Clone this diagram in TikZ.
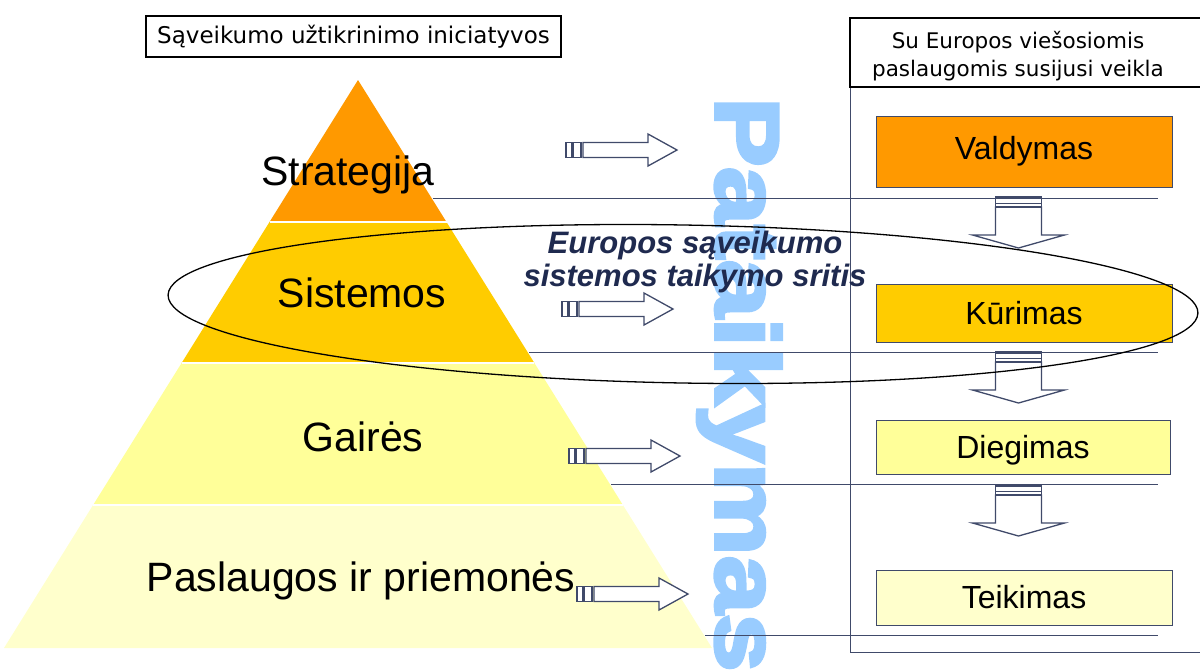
\documentclass[tikz,border=0pt]{standalone}
\usepackage{fontspec}
\setmainfont{Liberation Sans}
\newfontfamily\dejavu{DejaVu Sans}
\newfontfamily\wmfont[FakeBold=4,FakeStretch=1.16]{Liberation Sans Bold}
\usetikzlibrary{calc}
\definecolor{cA}{HTML}{FF9900}
\definecolor{cB}{HTML}{FFCC00}
\definecolor{cC}{HTML}{FFFF99}
\definecolor{cD}{HTML}{FFFFCC}
\definecolor{lineblue}{HTML}{404A6A}
\definecolor{wmblue}{HTML}{99CCFF}
\definecolor{navy}{HTML}{1F2A4F}
\tikzset{
  layer/.style={draw=white, line width=1.5},
  pyrtext/.style={font=\fontsize{41}{45}\selectfont, inner sep=0},
  hline/.style={draw=lineblue, line width=1},
  arrline/.style={draw=lineblue, line width=1.3},
  rbox/.style={draw=lineblue, line width=1, minimum width=296, inner sep=0, font=\fontsize{32}{36}\selectfont},
  tbox/.style={draw=black, line width=2.5, inner sep=0, font=\dejavu\fontsize{21.5}{28}\selectfont, align=center},
  rarr/.pic={
    \draw[arrline, fill=white] (0,-7.5) rectangle (6,7.5);
    \draw[arrline, fill=white] (7,-7.5) rectangle (15,7.5);
    \draw[arrline, fill=white] (17,-7.5) -- (82,-7.5) -- (82,-16) -- (111,0) -- (82,16) -- (82,7.5) -- (17,7.5) -- cycle;
  },
  darr/.pic={
    \draw[arrline, fill=white] (-23,10) -- (-23,38) -- (-46,38) -- (0,51) -- (46,38) -- (23,38) -- (23,10) -- cycle;
    \draw[arrline, fill=white] (-23,0) rectangle (23,10);
    \draw[draw=lineblue, line width=2.5] (-23,1.2) -- (23,1.2);
    \draw[draw=lineblue, line width=1] (-23,6) -- (23,6);
  }
}
\begin{document}
\begin{tikzpicture}[x=1pt,y=-1pt]
\useasboundingbox (0,0) rectangle (1200,670);

% watermark
\node[text=wmblue, font=\wmfont\fontsize{90}{90}\selectfont, rotate=-90, anchor=base west, inner sep=0] (wm) at (716,97) {Pataikymas};

% pyramid
\coordinate (apex) at (358,80);
\coordinate (L1) at (269.5,222); \coordinate (R1) at (446.5,222);
\coordinate (L2) at (181.6,363); \coordinate (R2) at (534.4,363);
\coordinate (L3) at (93.1,505);  \coordinate (R3) at (622.9,505);
\coordinate (L4) at (4,648);     \coordinate (R4) at (712,648);
\fill[cD] (L3) -- (R3) -- (R4) -- (L4) -- cycle;
\fill[cC] (L2) -- (R2) -- (R3) -- (L3) -- cycle;
\fill[cB] (L1) -- (R1) -- (R2) -- (L2) -- cycle;
\fill[cA] (apex) -- (R1) -- (L1) -- cycle;
\draw[layer] (L1) -- (R1);
\draw[layer] (L2) -- (R2);
\draw[layer] (L3) -- (R3);

\node[pyrtext] (strat) at (348,175) {Strategija};
\node[pyrtext] (sist) at (362,293) {Sistemos};
\node[pyrtext] (gair) at (363,437) {Gairės};
\node[pyrtext] (pasl) at (361,581) {Paslaugos ir priemonės};

% horizontal lines
\coordinate (h1a) at (433,198); \coordinate (h1b) at (1158,198);
\coordinate (h2a) at (529,352); \coordinate (h2b) at (1158,352);
\coordinate (h3a) at (611,484); \coordinate (h3b) at (1158,484);
\coordinate (h4a) at (705,635); \coordinate (h4b) at (1158,635);
\draw[hline] (h1a) -- (h1b);
\draw[hline] (h2a) -- (h2b);
\draw[hline] (h3a) -- (h3b);
\draw[hline] (h4a) -- (h4b);

% right column frame
\coordinate (f1) at (850,87); \coordinate (f2) at (850,652); \coordinate (f3) at (1205,652);
\draw[draw=lineblue, line width=1] (f1) -- (f2) -- (f3);

% title boxes
\node[tbox, minimum width=415, minimum height=41, font=\dejavu\fontsize{23}{26}\selectfont] (lt) at (353.5,36.5) {Sąveikumo užtikrinimo iniciatyvos};
\node[tbox, minimum width=354, minimum height=69] (rt) at (1027,52.5) {};
\node[align=center, inner sep=0, font=\dejavu\fontsize{21.5}{28}\selectfont] (rttext) at (1018,56) {Su Europos viešosiomis\\paslaugomis susijusi veikla};

% right boxes
\node[rbox, fill=cA, minimum height=71] (valdymas) at (1024,151.5) {Valdymas};
\node[rbox, fill=cB, minimum height=58] (kurimas) at (1024,313) {Kūrimas};
\node[rbox, fill=cC, minimum height=54, minimum width=294] (diegimas) at (1023,447) {};
\node[font=\fontsize{32}{36}\selectfont, inner sep=0] (diegtext) at (1023,450) {Diegimas};
\node[rbox, fill=cD, minimum height=55] (teikimas) at (1024,597.5) {Teikimas};

% down arrows
\pic at (1018.5,197) {darr};
\pic at (1018.5,352) {darr};
\pic at (1018.5,485) {darr};

% right arrows
\pic at (566,150) {rarr};
\pic at (562,309) {rarr};
\pic at (569,456) {rarr};
\pic at (577,594) {rarr};

% ellipse
\coordinate (ec) at (683,304);
\draw[black, line width=1.3, rotate around={-1:(ec)}] (ec) ellipse [x radius=515, y radius=79];
\node[align=center, text=navy, font=\bfseries\itshape\fontsize{31}{33}\selectfont, inner sep=0] (scope) at (695,262) {Europos sąveikumo\\sistemos taikymo sritis};
\end{tikzpicture}
\end{document}
